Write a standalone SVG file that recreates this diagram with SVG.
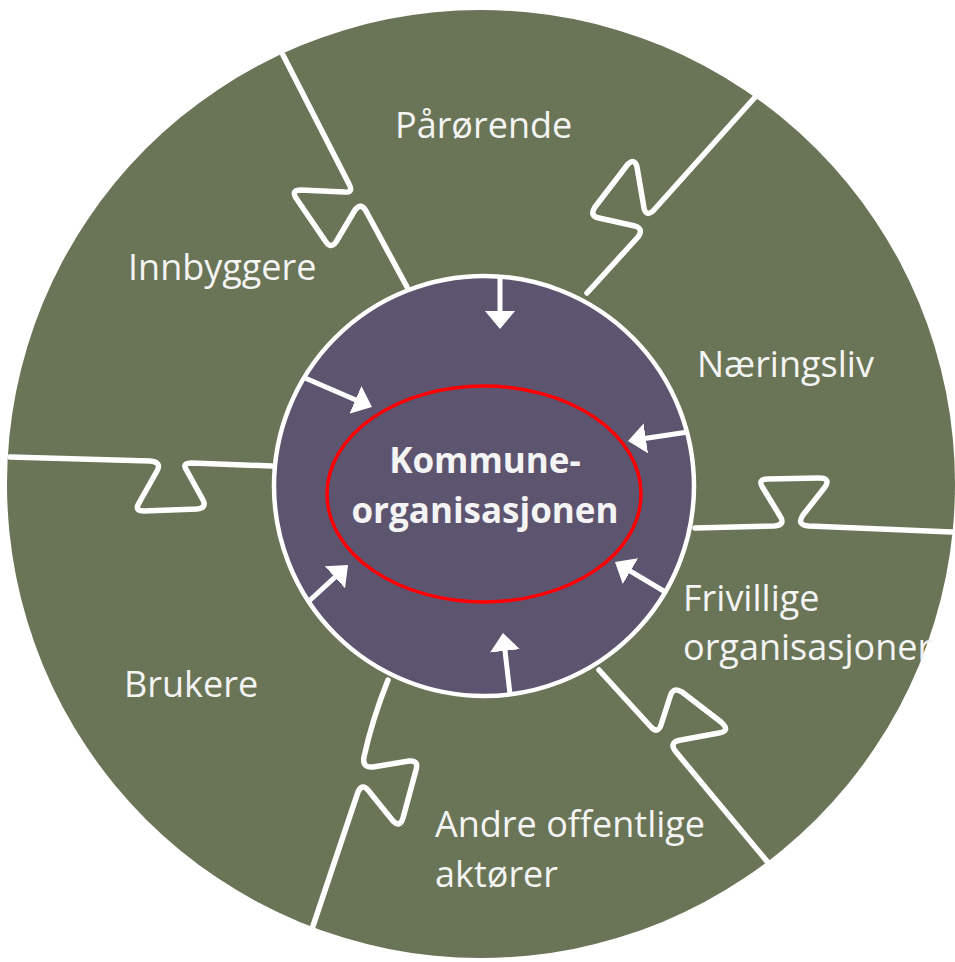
<svg xmlns="http://www.w3.org/2000/svg" width="955" height="962" viewBox="0 0 955 962">
<style>
.seg{fill:#6a7456}
.core{fill:#5d5470;stroke:#ffffff;stroke-width:4.5}
.edge{fill:none;stroke:#ffffff;stroke-width:5.5;stroke-linejoin:round;stroke-linecap:round}
.lbl{font-family:"Open Sans","Liberation Sans",sans-serif;font-size:36px;fill:#f4f4f4}
.ctr{font-family:"Open Sans","Liberation Sans",sans-serif;font-size:35px;font-weight:bold;fill:#f4f4f4;text-anchor:middle}
.arr{stroke:#ffffff;stroke-width:5;fill:none;marker-end:url(#ah)}
</style>
<defs>
<marker id="ah" markerUnits="userSpaceOnUse" viewBox="0 0 18 30" refX="8" refY="15" markerWidth="18" markerHeight="30" orient="auto">
<path d="M0,0 L18,15 L0,30 z" fill="#ffffff"/>
</marker>
</defs>
<rect width="955" height="962" fill="#ffffff"/>
<circle class="seg" cx="481" cy="484" r="474"/>
<g id="boundaries">
<path class="edge" d="M283,55 L349,184 Q354,193 344,192 L301,190 Q291,190 296,198 L326,242 Q331,249 336,242 L355,210 Q361,202 366,211 L407,287"/>
<path class="edge" d="M757,95 L653,211 Q646,217 644,208 L637,167 Q635,158 628,164 L595,207 Q589,216 599,218 L635,226 Q644,229 638,237 L587,293"/>
<path class="edge" d="M10,457 L150,461 Q162,462 157,471 L139,503 Q134,511 144,511 L197,509 Q207,508 203,500 L187,471 Q181,463 192,463 L272,466"/>
<path class="edge" d="M695,528 L774,526 Q786,525 780,516 L763,488 Q757,479 768,479 L819,478 Q831,478 825,487 L803,515 Q796,525 809,526 L952,532"/>
<path class="edge" d="M599,670 L651,727 Q658,734 661,725 L670,697 Q673,686 682,692 L721,722 Q731,731 719,733 L681,740 Q668,742 676,752 L770,865"/>
<path class="edge" d="M388,680 Q372,720 364,757 Q362,768 373,767 L409,761 Q419,760 416,770 L403,818 Q400,828 393,821 L368,790 Q362,783 358,792 L312,929"/>
</g>
<g id="kommuneorganisasjonen">
<circle class="core" cx="484" cy="486" r="210"/>
<ellipse cx="484" cy="494" rx="157" ry="108" fill="none" stroke="#ff0000" stroke-width="3.5"/>
<text class="ctr" x="485" y="473">Kommune-</text>
<text class="ctr" x="485" y="523">organisasjonen</text>
</g>
<g id="parorende"><text class="lbl" x="395" y="138">Pårørende</text></g>
<g id="innbyggere"><text class="lbl" x="128" y="280">Innbyggere</text></g>
<g id="naeringsliv"><text class="lbl" x="697" y="377">Næringsliv</text></g>
<g id="frivillige"><text class="lbl" x="683" y="611">Frivillige</text><text class="lbl" x="683" y="660">organisasjoner</text></g>
<g id="brukere"><text class="lbl" x="124" y="697">Brukere</text></g>
<g id="andre"><text class="lbl" x="435" y="837">Andre offentlige</text><text class="lbl" x="435" y="887">aktører</text></g>
<g id="connectors">
<line class="arr" x1="500" y1="278" x2="500" y2="319"/>
<line class="arr" x1="305" y1="378" x2="362.8" y2="403"/>
<line class="arr" x1="688" y1="432" x2="637.9" y2="439.5"/>
<line class="arr" x1="667" y1="593" x2="623.6" y2="567.1"/>
<line class="arr" x1="510" y1="694" x2="504.1" y2="642.9"/>
<line class="arr" x1="308" y1="602" x2="340.7" y2="571.8"/>
</g>
</svg>
